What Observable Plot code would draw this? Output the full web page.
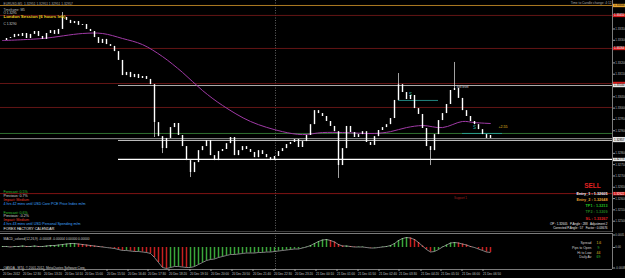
<!DOCTYPE html>
<html><head><meta charset="utf-8">
<script src="https://cdn.jsdelivr.net/npm/d3@7"></script>
<script src="https://cdn.jsdelivr.net/npm/@observablehq/plot@0.6"></script>
<style>
html,body{margin:0;padding:0;background:#000;}
#chart{width:625px;height:278px;background:#000;overflow:hidden;}
#chart svg{display:block;}
</style></head><body><div id="chart"></div>
<script>
// ---- data (EURUSD M5, one value every 2 bars) ----
const closes = [
1.33299,1.33308,1.33312,1.33326,1.33317,1.33330,1.33308,1.33326,1.33339,1.33317,
1.33304,1.33330,1.33343,1.33326,1.33348,1.33401,1.33388,1.33374,1.33383,1.33366,
1.33370,1.33348,1.33339,1.33312,1.33286,1.33304,1.33281,1.33273,1.33250,1.33211,
1.33144,1.33158,1.33135,1.33149,1.33131,1.33140,1.33127,1.33104,1.32936,1.32874,
1.32821,1.32866,1.32914,1.32932,1.32879,1.32830,1.32768,1.32715,1.32759,1.32812,
1.32830,1.32857,1.32790,1.32768,1.32808,1.32817,1.32843,1.32870,1.32790,1.32812,
1.32830,1.32817,1.32804,1.32781,1.32812,1.32795,1.32781,1.32768,1.32786,1.32808,
1.32821,1.32839,1.32848,1.32861,1.32826,1.32852,1.32879,1.32927,1.32989,1.32976,
1.32963,1.32941,1.32919,1.32896,1.32746,1.32821,1.32919,1.32892,1.32870,1.32883,
1.32896,1.32848,1.32835,1.32874,1.32901,1.32914,1.32927,1.32954,1.33034,1.33104,
1.33069,1.33038,1.33056,1.32998,1.32972,1.32910,1.32830,1.32812,1.32883,1.32945,
1.32976,1.33016,1.33078,1.33087,1.33043,1.32989,1.32963,1.32941,1.32927,1.32905,
1.32883,1.32866,1.32879];
const wickBars   = [15, 38, 40, 47, 84, 99, 107, 113];
const wickPrices = [1.33423, 1.32870, 1.32799, 1.32693, 1.32689, 1.33153, 1.32746, 1.33202];

const maBars   = [0, 10, 20, 25, 30, 35, 40, 45, 50, 55, 62, 70, 75, 80, 85, 93, 97, 101, 105, 110, 115, 118, 122];
const maValues = [1.33299,1.33308,1.33330,1.33330,1.33308,1.33281,1.33228,1.33158,1.33078,1.33012,1.32941,1.32896,1.32883,1.32892,1.32892,1.32888,1.32896,1.32914,1.32923,1.32914,1.32941,1.32936,1.32932];

const macdValues = [
0.00004,0.00004,0.00002,0.00004,0.00004,0.00006,0.00004,0.00004,0.00006,0.00004,
0.00004,0.00006,0.00008,0.00008,0.00010,0.00012,0.00014,0.00016,0.00016,0.00014,
0.00012,0.00010,0.00008,0.00006,0.00004,0.00002,0,-0.00002,-0.00004,-0.00008,
-0.00012,-0.00012,-0.00014,-0.00016,-0.00016,-0.00018,-0.00020,-0.00024,-0.00040,-0.00060,
-0.00080,-0.00084,-0.00080,-0.00076,-0.00076,-0.00078,-0.00080,-0.00080,-0.00076,-0.00068,
-0.00060,-0.00052,-0.00048,-0.00046,-0.00040,-0.00036,-0.00032,-0.00028,-0.00028,-0.00026,
-0.00024,-0.00022,-0.00022,-0.00022,-0.00020,-0.00020,-0.00018,-0.00018,-0.00016,-0.00014,
-0.00012,-0.00010,-0.00008,-0.00006,-0.00006,-0.00002,0.00002,0.00008,0.00016,0.00024,
0.00030,0.00032,0.00028,0.00022,0.00012,0.00006,0.00006,0.00004,0.00002,0.00002,
0.00002,0,-0.00002,-0.00002,0,0.00002,0.00004,0.00008,0.00016,0.00028,
0.00036,0.00040,0.00038,0.00032,0.00020,0.00006,-0.00008,-0.00018,-0.00016,-0.00008,
0.00002,0.00010,0.00018,0.00020,0.00018,0.00014,0.00010,0.00004,0,-0.00006,
-0.00012,-0.00018,-0.00020];

const levelNames  = ["Day high","R3","SL","R2","Box high","R1","Box mid","Box low","Range high","Range low","Entry_1"];
const levelPrices = [1.33454,1.33410,1.33264,1.33109,1.33100,1.33003,1.32888,1.32865,1.32857,1.32773,1.32622];
const levelStartBars = [-0.5,-0.5,-0.5,-0.5,29,-0.5,-0.5,-0.5,29,29,-0.5];

const signalNames  = ["S","S"];
const signalStart  = [99,115];
const signalEnd    = [109,125];
const signalPrices = [1.33034,1.32888];

const cursorBar = 68.25;

const priceTicks = [1.3345,1.3340,1.3335,1.3330,1.3325,1.3320,1.3315,1.3310,1.3305,1.3300,1.3295,1.3290,1.3285,1.3280,1.3275,1.3270,1.3265,1.3260,1.3255,1.3250];
const macdTicks = [0.0005, 0, -0.00082];
const macdTickLabels = ["0.0005","0.00","-0.0008"];
const dateTickBars = [0,5,10.25,15.5,20.5,26,31.25,36.25,41.5,46.75,52,57.25,62.5,67.75,73,78.25,83.5,88.75,94,99,104.5,109.5,114.75,120];
const dateLabels = ["20 Dec 2012","20 Dec 12:30","20 Dec 13:20","20 Dec 14:10","20 Dec 15:00","20 Dec 15:50","20 Dec 16:40","20 Dec 17:30","20 Dec 18:20","20 Dec 19:10","20 Dec 20:00","20 Dec 20:50","20 Dec 21:40","20 Dec 22:30","20 Dec 23:20","21 Dec 00:10","21 Dec 01:00","21 Dec 01:50","21 Dec 02:40","21 Dec 03:30","21 Dec 04:20","21 Dec 05:10","21 Dec 06:00","21 Dec 06:50"];

// ---- derived tables ----
const bars = closes.map((c, i) => ({i, open: i ? closes[i-1] : c, close: c}));
const wicks = wickBars.map((b, k) => ({i: b, from: closes[b], to: wickPrices[k]}));
const ma = maBars.map((b, k) => ({i: b, v: maValues[k]}));
const macd = macdValues.map((v, i) => ({i, v, up: i === 0 ? true : v >= macdValues[i-1]}));
const levelStyle = {
  "Day high":  {stroke:"#d99a2b", dash:null, box:"#e8a630", boxText:"#000", label:true},
  "R3":        {stroke:"#7c1a1a", dash:"1,1.4", box:"#d41c1c", boxText:"#fff", label:true},
  "SL":        {stroke:"#7c1a1a", dash:"1,1.4", box:"#d41c1c", boxText:"#fff", label:true},
  "R2":        {stroke:"#7c1a1a", dash:"1,1.4", box:"#d41c1c", boxText:"#fff", label:false},
  "Box high":  {stroke:"#d8d8d8", dash:null, box:"#e6e6e6", boxText:"#000", label:true},
  "R1":        {stroke:"#7c1a1a", dash:"1,1.4", box:null},
  "Box mid":   {stroke:"#3c8a3c", dash:"3,1.5", box:null},
  "Box low":   {stroke:"#bdbdbd", dash:"3,1.5", box:"#e6e6e6", boxText:"#000", label:false},
  "Range high":{stroke:"#f2f2f2", dash:null, box:"#e6e6e6", boxText:"#000", label:true},
  "Range low": {stroke:"#ffffff", dash:null, box:"#e6e6e6", boxText:"#000", label:true, w:1.3},
  "Entry_1":   {stroke:"#a01818", dash:"1,1.4", box:"#d41c1c", boxText:"#fff", label:true}
};
const levels = levelNames.map((n, k) => ({name: n, y: levelPrices[k], x1: levelStartBars[k], ...levelStyle[n]}));
const boxes = levels.filter(d => d.box);
const boxLabels = boxes.filter(d => d.label);
const yScalePx = 232 / (1.33476 - 1.32450);
const visibleTicks = priceTicks.filter(t => boxes.every(b => Math.abs(b.y - t) * yScalePx > 4));
const signals = signalNames.map((n, k) => ({name: n, x1: signalStart[k], x2: signalEnd[k], y: signalPrices[k]}));

const xDomain = [-0.5, 152.5];
const FONT = "Liberation Sans, Arial, sans-serif";

const note = (txt, x, y, o = {}) => Plot.text([txt], {
  text: d => d, frameAnchor: "top-left", dx: x, dy: y, textAnchor: "start",
  lineAnchor: "middle", fontSize: 3.6, fill: "#cfcfcf", ...o
});

// ---- main price panel ----
const main = Plot.plot({
  width: 625, height: 232,
  marginLeft: 0, marginRight: 13, marginTop: 0, marginBottom: 0,
  style: {background: "#000", color: "#c8c8c8", fontFamily: FONT},
  x: {domain: xDomain, axis: null},
  y: {domain: [1.32450, 1.33476], axis: null},
  color: {type: "identity"},
  marks: [
    Plot.ruleX([cursorBar], {stroke: "#8a8a8a", strokeDasharray: "1,1.5", strokeWidth: 0.7}),
    Plot.ruleY(levels, {y: "y", x1: "x1", x2: () => xDomain[1], stroke: "stroke",
      strokeDasharray: d => d.dash, strokeWidth: d => d.w || 0.8}),
    Plot.ruleY(signals, {y: "y", x1: "x1", x2: "x2", stroke: "#2aa6a0", strokeWidth: 0.8}),
    Plot.text(signals, {x: d => d.x1 + 3, y: "y", text: "name", dy: -6, fill: "#2fb7b0", fontSize: 4.5}),
    Plot.line(ma, {x: "i", y: "v", stroke: "#a03aa6", strokeWidth: 1, curve: "catmull-rom"}),
    Plot.ruleX(wicks, {x: "i", y1: "from", y2: "to", stroke: "#e8e8e8", strokeWidth: 0.7}),
    Plot.ruleX(bars, {x: "i", y1: "open", y2: "close", stroke: "#ffffff", strokeWidth: 1.4}),
    Plot.text(["+2.55"], {x: () => signalEnd[1] - 1, y: () => signalPrices[1], dy: -7, text: d => d, fill: "#e0c020", fontSize: 3.6, textAnchor: "start"}),
    Plot.text(["Sell level"], {x: () => wickBars[7] + 0.5, y: () => closes[113], dy: -1, text: d => d, fill: "#d8d8d8", fontSize: 3, textAnchor: "start"}),
    // header texts
    note("EURUSD,M5  1.32951 1.32951 1.32951 1.32957", 3, 3, {fill: "#a8a8a8", fontSize: 3.2}),
    note("Time to Candle change: 4:12", 611, 2.5, {textAnchor: "end", fill: "#a8a8a8", fontSize: 3.2}),
    note("Timeframe: M5", 3, 9, {fontSize: 3.2, fill: "#bdbdbd"}),
    note("O 1.3295", 3, 12.5, {fontSize: 3.2, fill: "#d0d0d0"}),
    note("London Session (6 hours left)", 3, 16.5, {fontSize: 4.4, fontWeight: "bold", fill: "#f0d020"}),
    note("C 1.3290", 3, 23, {fontSize: 3.2, fill: "#d0d0d0"}),
    // news block
    note("Forecast: 0.5%", 3, 191.5, {fill: "#30c030"}),
    note("Previous: 0.7%", 3, 195.3, {fill: "#d6d6d6"}),
    note("Impact: Medium", 3, 199, {fill: "#e03a2a"}),
    note("4 hrs 42 mins until USD Core PCE Price Index m/m", 3, 203.2, {fill: "#3fa6ff"}),
    note("Forecast: 0.6%", 3, 212, {fill: "#30c030"}),
    note("Previous: -0.2%", 3, 215.8, {fill: "#d6d6d6"}),
    note("Impact: Medium", 3, 219.5, {fill: "#e03a2a"}),
    note("4 hrs 43 mins until USD Personal Spending m/m", 3, 223.5, {fill: "#3fa6ff"}),
    note("FOREX FACTORY CALENDAR", 3, 228, {fill: "#f0f0f0"}),
    // trade block
    note("Support 1", 460, 198, {textAnchor: "middle", fill: "#a02020", fontSize: 3}),
    note("SELL", 592, 185, {textAnchor: "middle", fill: "#e02020", fontSize: 6.5, fontWeight: "bold"}),
    note("Entry_1 : 1.32605", 607, 193, {textAnchor: "end", fill: "#f2f2f2", fontSize: 3.8, fontWeight: "bold"}),
    note("Entry_2 : 1.32648", 607, 199, {textAnchor: "end", fill: "#e6a232", fontSize: 3.8, fontWeight: "bold"}),
    note("TP1 : 1.3213", 607, 205, {textAnchor: "end", fill: "#22c422", fontSize: 3.8, fontWeight: "bold"}),
    note("TP2 : 1.3209", 607, 211, {textAnchor: "end", fill: "#1f7f1f", fontSize: 3.8, fontWeight: "bold"}),
    note("SL : 1.33267", 607, 218, {textAnchor: "end", fill: "#e02020", fontSize: 3.8, fontWeight: "bold"}),
    note("OP : 1.32605   P.Angle : 288   Adjustment 2", 607, 224, {textAnchor: "end", fill: "#e8e8e8", fontSize: 3}),
    note("Corrected P.Angle : 57   Factor : 0.03676", 607, 227.5, {textAnchor: "end", fill: "#e8e8e8", fontSize: 3}),
    // right axis
    Plot.ruleX([xDomain[1]], {stroke: "#9a9a9a", strokeWidth: 0.8}),
    Plot.axisY(visibleTicks, {anchor: "right", tickFormat: d => d.toFixed(5), tickSize: 2, tickPadding: 0.8,
      fontSize: 2.9, stroke: "#9a9a9a", fill: "#bdbdbd", label: null}),
    Plot.ruleY(boxes, {y: "y", x1: () => xDomain[1] + 0.25, x2: () => xDomain[1] + 3.3, stroke: "box", strokeWidth: 3.4}),
    Plot.text(boxLabels, {y: "y", text: d => d.y.toFixed(5), frameAnchor: "right", dx: 1.5, textAnchor: "start",
      fill: "boxText", fontSize: 2.9}),
    Plot.ruleY([1.32450], {stroke: "#9a9a9a", strokeWidth: 0.8, dy: -0.5})
  ]
});

// ---- MACD panel ----
const dateMap = new Map(dateTickBars.map((b, k) => [b, dateLabels[k]]));
const macdMap = new Map(macdTicks.map((t, k) => [t, macdTickLabels[k]]));
const lower = Plot.plot({
  width: 625, height: 46,
  marginLeft: 0, marginRight: 13, marginTop: 1, marginBottom: 9,
  style: {background: "#000", color: "#c8c8c8", fontFamily: FONT},
  x: {domain: xDomain, axis: null},
  y: {domain: [-0.00088, 0.00056], axis: null},
  color: {type: "identity"},
  marks: [
    Plot.ruleY([0.00056], {stroke: "#9a9a9a", strokeWidth: 0.8}),
    Plot.ruleX([cursorBar], {stroke: "#8a8a8a", strokeDasharray: "1,1.5", strokeWidth: 0.7}),
    Plot.ruleX(macd, {x: "i", y1: 0, y2: "v", stroke: d => d.up ? "#3aa63a" : "#c82020", strokeWidth: 1.5}),
    Plot.line(macd, {x: "i", y: "v", stroke: "#dcdcdc", strokeWidth: 0.6, strokeDasharray: "1,0.8"}),
    note("MACD_colored(12,26,9) -0.00008 -0.00004 0.00000 0.00000", 3, 5, {fontSize: 3.2}),
    note("OANDA - MT4, \u00a9 2001-2012, MetaQuotes Software Corp.", 3, 34, {fontSize: 3.2}),
    note("Spread", 591, 9, {textAnchor: "end", fontSize: 3.4}),
    note("Pips to Open", 591, 14, {textAnchor: "end", fontSize: 3.4}),
    note("Hi to Low", 591, 19, {textAnchor: "end", fontSize: 3.4}),
    note("Daily Av", 591, 23.5, {textAnchor: "end", fontSize: 3.4}),
    note("1.6", 596, 9, {fill: "#e6c020", fontSize: 3.4}),
    note("9", 597, 14, {fill: "#30c030", fontSize: 3.4}),
    note("44", 596, 19, {fill: "#e6c020", fontSize: 3.4}),
    note("69", 596, 23.5, {fill: "#30c030", fontSize: 3.4}),
    Plot.ruleX([xDomain[1]], {stroke: "#9a9a9a", strokeWidth: 0.8}),
    Plot.axisY(macdTicks, {anchor: "right", tickFormat: d => macdMap.get(d), tickSize: 2, tickPadding: 0.8,
      fontSize: 2.9, stroke: "#9a9a9a", fill: "#bdbdbd", label: null}),
    Plot.ruleY([-0.00088], {stroke: "#9a9a9a", strokeWidth: 0.8}),
    Plot.axisX(dateTickBars, {anchor: "bottom", tickFormat: d => dateMap.get(d), tickSize: 2, tickPadding: 1,
      textAnchor: "start", dx: 0.5, fontSize: 3, stroke: "#9a9a9a", fill: "#c8c8c8", label: null})
  ]
});

const root = document.getElementById("chart");
root.appendChild(main);
root.appendChild(lower);
</script></body></html>
